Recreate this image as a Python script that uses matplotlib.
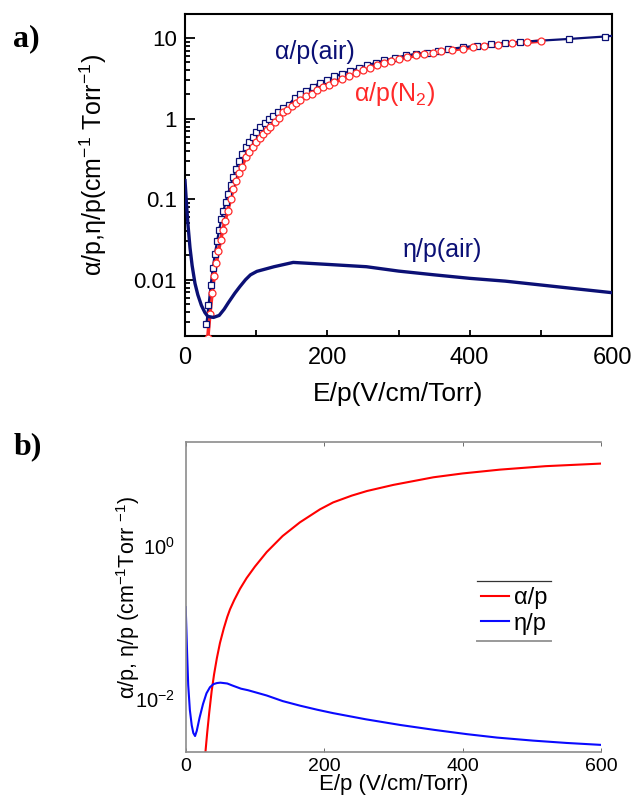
import matplotlib
matplotlib.use("Agg")
import matplotlib.pyplot as plt
from matplotlib.ticker import LogLocator, NullFormatter, FixedLocator, LogFormatterSciNotation
import numpy as np

plt.rcParams['font.family'] = ['Liberation Sans', 'DejaVu Sans']
plt.rcParams['mathtext.fontset'] = 'custom'
plt.rcParams['mathtext.rm'] = 'Liberation Sans'
plt.rcParams['mathtext.it'] = 'Liberation Sans:italic'
plt.rcParams['mathtext.bf'] = 'Liberation Sans:bold'

# ---- panel a data ----
air_alpha_E = [30, 33, 36, 39, 42, 45, 48, 51, 54, 57, 60, 64, 68, 72, 76, 80, 85, 90, 95, 100,
               106, 112, 118, 124, 130, 138, 146, 154, 162, 170, 180, 190, 200, 210, 220, 232,
               244, 256, 268, 280, 295, 310, 325, 340, 355, 370, 390, 410, 430, 450, 470, 540, 590, 600]
air_alpha = [0.0028, 0.0048, 0.0085, 0.014, 0.021, 0.030, 0.042, 0.056, 0.072, 0.092, 0.115, 0.15,
             0.19, 0.24, 0.30, 0.36, 0.44, 0.52, 0.60, 0.68, 0.78, 0.88, 0.98, 1.08, 1.2, 1.35, 1.5,
             1.8, 2.0, 2.2, 2.5, 2.8, 3.05, 3.35, 3.6, 3.9, 4.25, 4.6, 4.95, 5.3, 5.7, 6.1, 6.4, 6.6,
             6.95, 7.3, 7.7, 8.1, 8.45, 8.8, 9.0, 9.8, 10.5, 10.7]

n2_alpha_E = [32, 35, 38, 41, 44, 47, 50, 53, 56, 60, 64, 68, 72, 76, 80, 85, 90, 95, 100, 105, 110,
              115, 120, 126, 132, 138, 144, 150, 156, 162, 170, 178, 186, 194, 202, 210, 220, 230,
              240, 250, 260, 270, 280, 290, 300, 312, 324, 336, 348, 360, 375, 390, 405, 420, 440,
              460, 480, 500]
n2_alpha = [0.0019, 0.0038, 0.0068, 0.011, 0.016, 0.023, 0.031, 0.041, 0.053, 0.072, 0.10, 0.135,
            0.17, 0.21, 0.25, 0.33, 0.39, 0.45, 0.51, 0.57, 0.64, 0.72, 0.80, 0.9, 1.02, 1.2, 1.3,
            1.42, 1.55, 1.7, 1.9, 2.05, 2.25, 2.45, 2.65, 2.85, 3.1, 3.4, 3.7, 4.0, 4.3, 4.6, 4.9,
            5.2, 5.45, 5.8, 6.1, 6.35, 6.6, 6.85, 7.15, 7.45, 7.7, 7.95, 8.3, 8.6, 8.9, 9.2]

air_eta_E = [0, 2, 4, 7, 10, 14, 18, 23, 28, 32, 40, 48, 55, 61, 70, 77, 85, 92, 101, 125, 152,
             200, 255, 300, 350, 400, 450, 500, 550, 600]
air_eta = [0.17, 0.09, 0.05, 0.025, 0.015, 0.009, 0.0065, 0.0048, 0.0039, 0.0035, 0.0034, 0.0036,
           0.0043, 0.0052, 0.0068, 0.0082, 0.0100, 0.0115, 0.0127, 0.0145, 0.0164, 0.0155, 0.0145,
           0.0128, 0.0115, 0.0104, 0.0096, 0.0086, 0.0077, 0.0069]

# ---- panel b data ----
b_alpha_E = [28, 31, 34, 37.5, 41, 45, 49.5, 55, 60, 64, 70, 78.5, 88, 100, 117, 140, 165, 194,
             213, 240, 262, 300, 358, 400, 454, 520, 600]
b_alpha = [0.00178, 0.00355, 0.0066, 0.0126, 0.0209, 0.0339, 0.0537, 0.0832, 0.1175, 0.148, 0.195,
           0.275, 0.38, 0.537, 0.832, 1.35, 2.04, 3.02, 3.72, 4.57, 5.25, 6.31, 7.94, 8.91, 10.0,
           11.1, 12.0]

b_eta_E = [0, 1, 2, 3.6, 6, 8.7, 11, 13.5, 16, 20, 25, 30, 35, 40, 45, 50, 55, 60, 68, 80, 90,
           117, 140, 165, 190, 213, 260, 310, 360, 406, 450, 502, 550, 600]
b_eta = [0.158, 0.0794, 0.0398, 0.0151, 0.00708, 0.00447, 0.00355, 0.00324, 0.0038, 0.00562,
         0.00851, 0.01175, 0.0141, 0.0155, 0.016, 0.0162, 0.016, 0.0158, 0.0148, 0.0135, 0.0129,
         0.011, 0.0093, 0.0081, 0.00716, 0.00646, 0.00537, 0.00452, 0.00389, 0.00343, 0.00309,
         0.00282, 0.00263, 0.00248]

NAVY = '#0b1075'
RED = '#ff2a2a'

fig = plt.figure(figsize=(6.36, 7.99), dpi=100)

# ================= panel a =================
ax = fig.add_axes([0.2909, 0.5795, 0.6714, 0.403])
ax.set_yscale('log')
ax.plot(n2_alpha_E, n2_alpha, color=RED, lw=2.6, zorder=2)
ax.plot(air_alpha_E, air_alpha, color=NAVY, lw=1.6, zorder=3)
ax.plot(air_alpha_E[:-1], air_alpha[:-1], ls='none', marker='s', ms=4, mfc='white',
        mec=NAVY, mew=0.9, zorder=4)
ax.plot(n2_alpha_E, n2_alpha, ls='none', marker='o', ms=5, mfc='white',
        mec=RED, mew=0.9, zorder=5)
ax.plot(air_eta_E, air_eta, color=NAVY, lw=2.4, zorder=6)

ax.set_xlim(0, 600)
ax.set_ylim(0.002, 20)
ax.xaxis.set_major_locator(FixedLocator([0, 200, 400, 600]))
ax.xaxis.set_minor_locator(FixedLocator([100, 300, 500]))
ax.yaxis.set_major_locator(FixedLocator([0.01, 0.1, 1, 10]))
ax.yaxis.set_minor_locator(LogLocator(base=10, subs=np.arange(2, 10)))
ax.yaxis.set_minor_formatter(NullFormatter())
ax.set_yticklabels(['0.01', '0.1', '1', '10'])
ax.tick_params(axis='both', which='both', direction='in', top=False, right=False, width=1.3)
ax.tick_params(axis='y', which='major', length=7, labelsize=16, pad=6)
ax.tick_params(axis='y', which='minor', length=3.5)
ax.tick_params(axis='x', which='both', length=4.5, labelsize=17, pad=8)
for s in ax.spines.values():
    s.set_linewidth(1.5)

ax.set_xlabel('E/p(V/cm/Torr)', fontsize=19)
ax.xaxis.set_label_coords(0.5, -0.143)
ax.set_ylabel('α/p,η/p(cm$^{-1}$ Torr$^{-1}$)', fontsize=18)
ax.yaxis.set_label_coords(-0.178, 0.53)

ax.text(183, 6.7, 'α/p(air)', color=NAVY, fontsize=18, ha='center', va='center')
ax.text(294, 2.0, 'α/p(N$_2$)', color=RED, fontsize=18, ha='center', va='center')
ax.text(361, 0.0236, 'η/p(air)', color=NAVY, fontsize=18, ha='center', va='center')

fig.text(0.020, 0.951, 'a)', fontsize=23, fontweight='bold', family='Liberation Serif',
         ha='left', va='center')

# ================= panel b =================
bx = fig.add_axes([0.292, 0.0588, 0.653, 0.388])
bx.set_yscale('log')
bx.plot(b_alpha_E, b_alpha, color='#ff0000', lw=1.5, label='α/p')
bx.plot(b_eta_E, b_eta, color='#0a0aff', lw=1.5, label='η/p')
bx.set_xlim(0, 600)
bx.set_ylim(0.002, 23)
bx.set_xticks([0, 200, 400, 600])
bx.yaxis.set_major_locator(FixedLocator([0.01, 1]))
bx.yaxis.set_major_formatter(LogFormatterSciNotation())
bx.yaxis.set_minor_locator(FixedLocator([]))
bx.tick_params(axis='x', direction='in', length=3, width=0.6, color='#555555',
               top=True, labelsize=14, pad=4)
bx.tick_params(axis='y', length=0, labelsize=14.5, pad=8)
for k in ['left', 'top', 'bottom']:
    bx.spines[k].set_color('#8c8c8c')
    bx.spines[k].set_linewidth(1.2)
bx.spines['right'].set_visible(False)

bx.set_xlabel('E/p (V/cm/Torr)', fontsize=16)
bx.xaxis.set_label_coords(0.5, -0.072)
bx.set_ylabel('α/p, η/p (cm$^{-1}$Torr $^{-1}$)', fontsize=15.5)
bx.yaxis.set_label_coords(-0.105, 0.5)

leg = bx.legend(loc='center', bbox_to_anchor=(0.79, 0.455), frameon=False, fontsize=17,
                handlelength=1.2, handletextpad=0.2, labelspacing=0.15, borderaxespad=0)
bx.plot([0.701, 0.880], [0.552, 0.552], transform=bx.transAxes, color='#333333', lw=0.9)
bx.plot([0.701, 0.880], [0.358, 0.358], transform=bx.transAxes, color='#999999', lw=1.4)

fig.text(0.022, 0.441, 'b)', fontsize=23, fontweight='bold', family='Liberation Serif',
         ha='left', va='center')

fig.savefig('out.png', dpi=100)
